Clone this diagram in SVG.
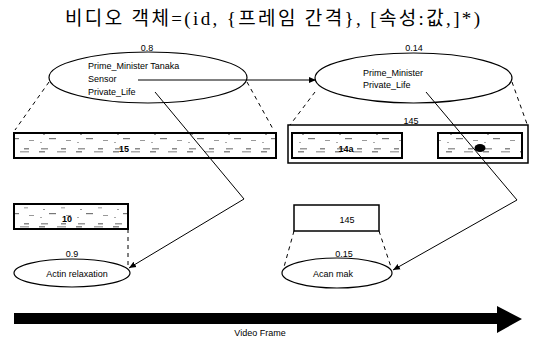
<svg xmlns="http://www.w3.org/2000/svg" width="534" height="340" viewBox="0 0 534 340">
<style>
.t{font-family:"Liberation Sans",Arial,sans-serif;font-size:9px;fill:#000}
.lab{font-family:"Liberation Sans",Arial,sans-serif;font-size:9px;fill:#000}
.ell{fill:#fff;stroke:#000;stroke-width:1.2}
.dash{fill:none;stroke:#000;stroke-width:1;stroke-dasharray:4 4}
.conn{fill:none;stroke:#000;stroke-width:1}
.film{fill:url(#noise);stroke:#000;stroke-width:2}
.frame{fill:#fff;stroke:#000;stroke-width:1.5}
.title{font-family:"Liberation Serif","Noto Sans CJK KR",serif;font-size:19px;fill:#000}
</style>
<defs>
<marker id="ah" markerWidth="8" markerHeight="8" refX="7" refY="4" orient="auto" markerUnits="userSpaceOnUse">
<path d="M0,1 L7,4 L0,7 Z" fill="#000"/>
</marker>
<pattern id="noise" width="37" height="25" patternUnits="userSpaceOnUse">
<rect width="37" height="25" fill="#fff"/>
<rect x="2" y="1" width="6" height="1.5" fill="#888"/>
<rect x="20" y="1" width="9" height="1.5" fill="#aaa"/>
<rect x="6" y="9" width="2" height="1" fill="#999"/>
<rect x="24" y="7" width="4" height="1.5" fill="#bbb"/>
<rect x="12" y="13" width="7" height="1.2" fill="#777"/>
<rect x="29" y="15" width="5" height="1" fill="#999"/>
<rect x="3" y="17" width="2" height="1" fill="#aaa"/>
<rect x="4" y="23" width="7" height="1.5" fill="#999"/>
<rect x="24" y="23" width="5" height="1.5" fill="#888"/>
</pattern>
</defs>
<rect width="534" height="340" fill="#fff"/>

<g id="title">
<text class="title" x="272.5" y="25" text-anchor="middle" textLength="415" lengthAdjust="spacing">비디오 객체=(id, {프레임 간격}, [속성:값,]*)</text>
</g>

<g id="obj-08">
<ellipse class="ell" cx="148" cy="77.5" rx="99" ry="25.5"/>
<text class="lab" x="147" y="51" text-anchor="middle">0.8</text>
<text class="t" x="88" y="68.5">Prime_Minister  Tanaka</text>
<text class="t" x="88" y="81.5">Sensor</text>
<text class="t" x="88" y="95">Private_Life</text>
</g>

<g id="obj-014">
<ellipse class="ell" cx="413.5" cy="78" rx="98.5" ry="25"/>
<text class="lab" x="414" y="51" text-anchor="middle">0.14</text>
<text class="t" x="363" y="76">Prime_Minister</text>
<text class="t" x="363" y="88">Private_Life</text>
</g>

<g id="frame-15">
<rect class="film" x="14" y="133" width="262" height="25"/>
<text class="t" x="124" y="152" text-anchor="middle" font-weight="bold" font-size="10">15</text>
</g>

<g id="frame-145">
<rect class="frame" x="288" y="125" width="240" height="38"/>
<text class="lab" x="411" y="124" text-anchor="middle">145</text>
<rect class="film" x="292" y="133" width="110" height="25" stroke-width="1.5"/>
<text class="t" x="346" y="152" text-anchor="middle" font-weight="bold">14a</text>
<rect class="film" x="438" y="133" width="84" height="25" stroke-width="1.5"/>
<ellipse cx="480" cy="148" rx="5.5" ry="4" fill="#000"/>
</g>

<g id="frame-10">
<rect class="film" x="14" y="204" width="114" height="25" stroke-width="1.5"/>
<text class="t" x="67" y="222" text-anchor="middle" font-weight="bold" font-size="10">10</text>
</g>

<g id="frame-145b">
<rect class="frame" x="294" y="205" width="85" height="26" stroke-width="1.2"/>
<text class="t" x="347" y="223" text-anchor="middle">145</text>
</g>

<g id="obj-09">
<ellipse class="ell" cx="72" cy="273" rx="58" ry="14"/>
<text class="lab" x="72" y="257" text-anchor="middle">0.9</text>
<text class="t" x="77" y="277" text-anchor="middle">Actin  relaxation</text>
</g>

<g id="obj-015">
<ellipse class="ell" cx="337" cy="273" rx="55" ry="15"/>
<text class="lab" x="344" y="257" text-anchor="middle">0.15</text>
<text class="t" x="333" y="277" text-anchor="middle">Acan mak</text>
</g>

<g id="timeline">
<path d="M14,313 L497,313 L497,306 L522,319 L497,333 L497,324 L14,324 Z" fill="#000"/>
<text class="t" x="260" y="336" text-anchor="middle" font-size="8">Video Frame</text>
</g>

<g id="connectors">
<line class="conn" x1="138" y1="80" x2="316" y2="80" marker-end="url(#ah)"/>
<polyline class="conn" points="155,92 244,199 129,268" marker-end="url(#ah)"/>
<polyline class="conn" points="426,92 517,200 393,270" marker-end="url(#ah)"/>
<line class="dash" x1="49" y1="82" x2="15" y2="130"/>
<line class="dash" x1="247" y1="82" x2="273" y2="129"/>
<line class="dash" x1="315" y1="92" x2="290" y2="125"/>
<line class="dash" x1="512" y1="82" x2="527" y2="124"/>
<line class="dash" x1="128" y1="229" x2="128" y2="266"/>
<line class="dash" x1="294" y1="231" x2="284" y2="267"/>
<line class="dash" x1="379" y1="231" x2="391" y2="267"/>
</g>
</svg>
